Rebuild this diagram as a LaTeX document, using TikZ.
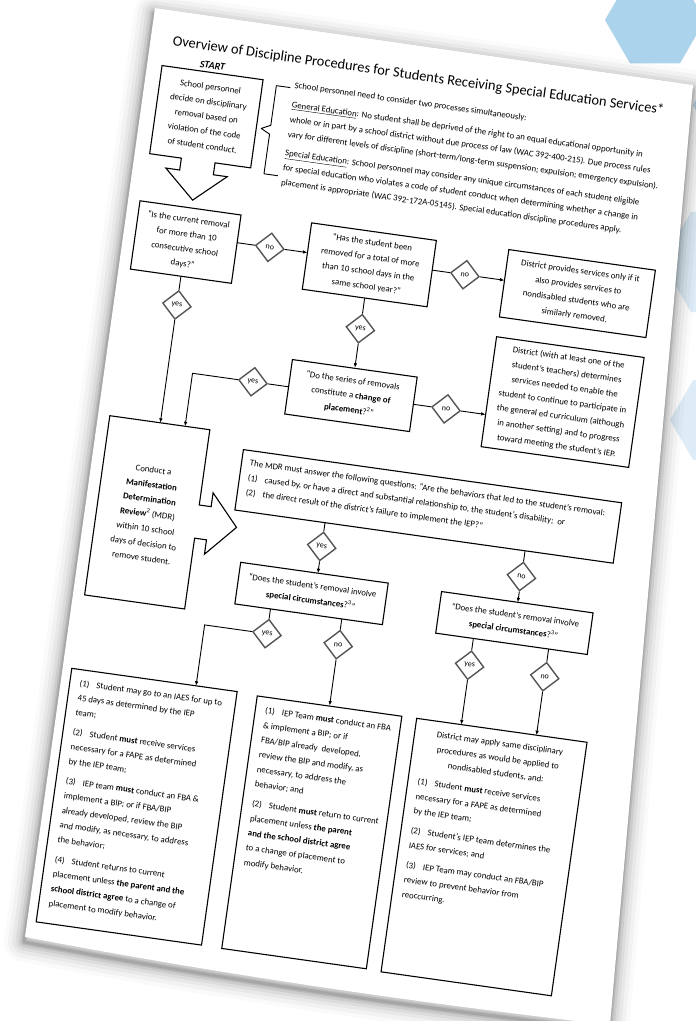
\documentclass[tikz,border=0pt]{standalone}
\usepackage{fontspec}
\setmainfont{Carlito}
\usetikzlibrary{arrows.meta,shapes.geometric}
\definecolor{hexA}{RGB}{172,211,236}
\definecolor{hexB}{RGB}{198,225,242}
\definecolor{hexC}{RGB}{221,236,246}
\definecolor{diag}{RGB}{85,85,85}
\newcommand{\bodyfs}{\fontsize{8.8}{14.8}\selectfont}
\newcommand{\hi}[1]{\hangindent=17pt\hangafter=1\noindent\makebox[17pt][l]{#1}}
\begin{document}
\begin{tikzpicture}[x=1pt,y=-1pt,
  box/.style={draw, line width=1.1pt, inner sep=0pt, align=center, font=\bodyfs},
  lbox/.style={draw, line width=1.1pt, inner sep=0pt, font=\bodyfs},
  dec/.style={draw=diag, line width=1.4pt, diamond, minimum width=29pt, minimum height=29pt, inner sep=0pt, font=\fontsize{8}{9}\selectfont},
  conn/.style={line width=0.9pt},
  arr/.style={line width=0.9pt, -{Latex[length=4.5pt,width=3.6pt]}},
  outline/.style={line width=1.1pt, line join=miter},
  txt/.style={inner sep=0pt, font=\bodyfs}
]
\useasboundingbox (0,0) rectangle (696,1021);
\fill[white] (0,0) rectangle (696,1021);
% background hexagons
\foreach \cx/\cy/\r/\c in {655/20/50/hexA, 745/105/52/hexB, 560/-45/45/hexB, 720/262/58/hexC, 716/420/46/hexC}
  \fill[\c] (\cx,\cy) +(0:\r) -- +(60:\r) -- +(120:\r) -- +(180:\r) -- +(240:\r) -- +(300:\r) -- cycle;
% page shadow and page
\foreach \w/\o in {40/0.02, 32/0.03, 24/0.04, 17/0.05, 11/0.07, 6/0.09, 3/0.1}
  \draw[line width=\w pt, black, opacity=\o, line join=round, shift={(-1,5)}]
    (155,8) -- (693,85) -- (610,1025) .. controls (420,1003) and (230,976) .. (25,937) -- cycle;
\fill[white] (155,8) -- (693,85) -- (610,1025) .. controls (420,1003) and (230,976) .. (25,937) -- cycle;

\begin{scope}[shift={(155,8)}, rotate=-8, every node/.append style={transform shape}]
\node[font=\fontsize{14.4}{17}\selectfont, inner sep=0pt] (title) at (270.5,31) {Overview of Discipline Procedures for Students Receiving Special Education Services*};
\node[font=\fontsize{10}{12}\selectfont\bfseries\itshape, inner sep=0pt] (start) at (65,49) {START};
% start box with down arrow
\draw[outline] (15,56) -- (117,56) -- (117,145) -- (81,145) -- (81,157) -- (95,157) -- (64,185) -- (33,157) -- (47,157) -- (47,145) -- (15,145) -- cycle;
\node[txt, align=center] (t1) at (66,100) {School personnel\\decide on disciplinary\\removal based on\\violation of the code\\of student conduct.};
% brace
\draw[line width=0.9pt, line join=round] (145,60) -- (131,60) -- (131,100) -- (122,104.5) -- (131,109) -- (131,149) -- (145,149);
\node[txt, anchor=base west] (intro) at (149,60) {\vtop{\hsize=430pt\parindent=0pt\raggedright
School personnel need to consider two processes simultaneously:\par\vspace{5pt}
\underline{General Education}: No student shall be deprived of the right to an equal educational opportunity in\\
whole or in part by a school district without due process of law (WAC 392-400-215). Due process rules\\
vary for different levels of discipline (short-term/long-term suspension; expulsion; emergency expulsion).\par\vspace{4pt}
\underline{Special Education}: School personnel may consider any unique circumstances of each student eligible\\
for special education who violates a code of student conduct when determining whether a change in\\
placement is appropriate (WAC 392-172A-05145). Special education discipline procedures apply.}};

% question boxes
\node[box, minimum width=102pt, minimum height=69pt] (qA) at (63,227.5) {“Is the current removal\\for more than 10\\consecutive school\\days?”};
\node[box, minimum width=126pt, minimum height=67pt] (qB) at (248,224.5) {“Has the student been\\removed for a total of more\\than 10 school days in the\\same school year?”};
\node[box, minimum width=148pt, minimum height=68pt] (d1) at (458,224) {District provides services only if it\\also provides services to\\nondisabled students who are\\similarly removed.};
\node[box, minimum width=126pt, minimum height=55pt] (qS) at (248,356.5) {“Do the series of removals\\constitute a \textbf{change of}\\\textbf{placement}?\textsuperscript{2}”};
\node[box, minimum width=149pt, minimum height=111pt] (d2) at (458.5,333.5) {District (with at least one of the\\student’s teachers) determines\\services needed to enable the\\student to continue to participate in\\the general ed curriculum (although\\in another setting) and to progress\\toward meeting the student’s IEP.};

% conduct MDR callout
\draw[outline] (12,410) -- (113,410) -- (113,486) -- (125,486) -- (125,472) -- (153,503) -- (125,534) -- (125,519.5) -- (113,519.5) -- (113,591) -- (12,591) -- cycle;
\node[txt, align=center] (cm) at (63,502) {Conduct a\\\textbf{Manifestation}\\\textbf{Determination}\\\textbf{Review}\textsuperscript{2} (MDR)\\within 10 school\\days of decision to\\remove student.};

% MDR questions
\node[lbox, minimum width=382pt, minimum height=61pt] (mdr) at (340,455.5) {\makebox[365pt][l]{\vbox to 43pt{\hsize=420pt\parindent=0pt\raggedright
The MDR must answer the following questions: “Are the behaviors that led to the student’s removal:\par
\hi{(1)}caused by, or have a direct and substantial relationship to, the student’s disability;\ \ or\par
\hi{(2)}the direct result of the district’s failure to implement the IEP?”\vfill}}};

\node[box, minimum width=149pt, minimum height=42pt] (sc1) at (236.5,558) {“Does the student’s removal involve\\\textbf{special circumstances}?\textsuperscript{3}”};
\node[box, minimum width=153pt, minimum height=42pt] (sc2) at (441.5,559) {“Does the student’s removal involve\\\textbf{special circumstances}?\textsuperscript{3}”};

% bottom boxes
\node[lbox, minimum width=167pt, minimum height=256pt] (L1) at (93,793.5) {\makebox[147pt][l]{\vbox to 236pt{\hsize=200pt\parindent=0pt\raggedright
\hi{(1)}Student may go to an IAES for up to\\45 days as determined by the IEP\\team;\par\vspace{5pt}
\hi{(2)}Student \textbf{must} receive services\\necessary for a FAPE as determined\\by the IEP team;\par\vspace{5pt}
\hi{(3)}IEP team \textbf{must} conduct an FBA \&\\implement a BIP; or if FBA/BIP\\already developed, review the BIP\\and modify, as necessary, to address\\the behavior;\par\vspace{5pt}
\hi{(4)}Student returns to current\\placement unless \textbf{the parent and the}\\\textbf{school district agree} to a change of\\placement to modify behavior.\vfill}}};
\node[lbox, minimum width=146pt, minimum height=255pt] (L2) at (270,794.5) {\makebox[126pt][l]{\vbox to 235pt{\hsize=200pt\parindent=0pt\raggedright
\hi{(1)}IEP Team \textbf{must} conduct an FBA\\\& implement a BIP; or if\\FBA/BIP already\ \ developed,\\review the BIP and modify, as\\necessary, to address the\\behavior; and\par\vspace{5pt}
\hi{(2)}Student \textbf{must} return to current\\placement unless \textbf{the parent}\\\textbf{and the school district agree}\\to a change of placement to\\modify behavior.\vfill}}};
\node[lbox, minimum width=172pt, minimum height=256pt] (L3) at (444,795) {\makebox[152pt][l]{\vbox to 236pt{\hsize=152pt\parindent=0pt\raggedright
{\centering District may apply same disciplinary\\procedures as would be applied to\\nondisabled students, and:\par}\vspace{5pt}
\hi{(1)}Student \textbf{must} receive services\\necessary for a FAPE as determined\\by the IEP team;\par\vspace{5pt}
\hi{(2)}Student’s IEP team determines the\\IAES for services; and\par\vspace{5pt}
\hi{(3)}IEP Team may conduct an FBA/BIP\\review to prevent behavior from\\reoccurring.\vfill}}};

% decision diamonds
\node[dec] (n1) at (147,221) {no};
\node[dec] (n2) at (344,221) {no};
\node[dec] (y1) at (63,291) {yes};
\node[dec] (y2) at (248,289) {yes};
\node[dec] (y3) at (149,356.5) {yes};
\node[dec] (n3) at (344,356.5) {no};
\node[dec] (y4) at (240,510) {yes};
\node[dec] (n4) at (442,512) {no};
\node[dec] (y5) at (198,604) {yes};
\node[dec] (n5) at (270,605) {no};
\node[dec] (y6) at (403,607) {yes};
\node[dec] (n6) at (479,608) {no};

% connector end points
\coordinate (aR) at (114,221);   \coordinate (bL) at (185,221);
\coordinate (bR) at (311,221);   \coordinate (d1L) at (384,221);
\coordinate (cT1) at (63,410);   \coordinate (k1) at (88,356.5); \coordinate (cT2) at (88,410);
\coordinate (d2L) at (384,356.5);
\coordinate (mB1) at (240,486);  \coordinate (sc1T) at (240,537);
\coordinate (mB2) at (442,486);  \coordinate (sc2T) at (442,538);
\coordinate (s1B1) at (198,579); \coordinate (k2) at (135,604); \coordinate (l1T) at (135,665.5);
\coordinate (s1B2) at (270,579);
\coordinate (s2B1) at (403,580); \coordinate (l3T1) at (403,667);
\coordinate (s2B2) at (479,580); \coordinate (l3T2) at (479,667);

% connectors
\draw[conn] (aR) -- (n1);  \draw[arr] (n1) -- (bL);
\draw[conn] (bR) -- (n2);  \draw[arr] (n2) -- (d1L);
\draw[conn] (qA.south) -- (y1);  \draw[arr] (y1) -- (cT1);
\draw[conn] (qB.south) -- (y2);  \draw[arr] (y2) -- (qS.north);
\draw[conn] (qS.west) -- (y3);   \draw[arr] (y3) -- (k1) -- (cT2);
\draw[conn] (qS.east) -- (n3);   \draw[arr] (n3) -- (d2L);
\draw[conn] (mB1) -- (y4);  \draw[arr] (y4) -- (sc1T);
\draw[conn] (mB2) -- (n4);  \draw[arr] (n4) -- (sc2T);
\draw[conn] (s1B1) -- (y5); \draw[arr] (y5) -- (k2) -- (l1T);
\draw[conn] (s1B2) -- (n5); \draw[arr] (n5) -- (L2.north);
\draw[conn] (s2B1) -- (y6); \draw[arr] (y6) -- (l3T1);
\draw[conn] (s2B2) -- (n6); \draw[arr] (n6) -- (l3T2);
\end{scope}
\end{tikzpicture}
\end{document}
